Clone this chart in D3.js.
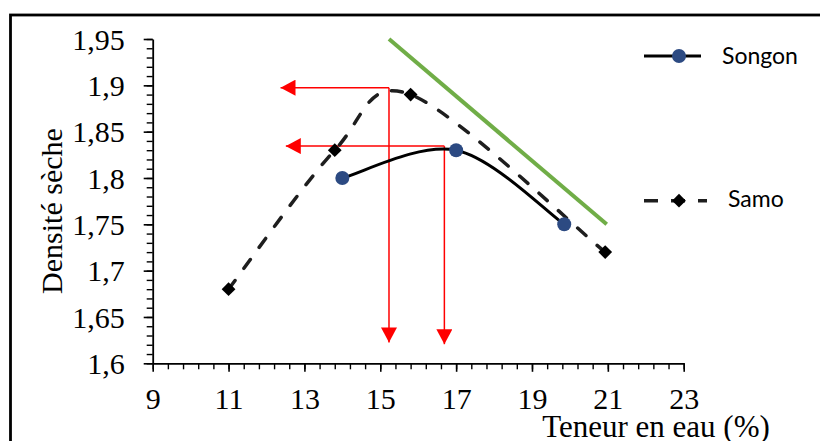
<!DOCTYPE html>
<html>
<head>
<meta charset="utf-8">
<script src="https://cdn.jsdelivr.net/npm/d3@7/dist/d3.min.js"></script>
<style>
  html, body { margin: 0; padding: 0; background: #fff; }
  svg { display: block; }
</style>
</head>
<body>
<svg id="chart" width="820" height="441"></svg>
<script>
// Compaction test: dry density against water content for two soils
const songonWater = [14, 17, 19.85];
const songonDensity = [1.80, 1.83, 1.75];
const samoWater = [11, 13.8, 15.8, 20.93];
const samoDensity = [1.68, 1.83, 1.89, 1.72];

// Saturation line (straight reference line)
const satWater = [15.23, 20.97];
const satDensity = [1.95, 1.75];

// Optimum read-off guides: corner of each guide, horizontal arrow tip, vertical arrow tip
const guideWater = [15.23, 16.69];
const guideDensity = [1.8975, 1.8344];
const guideTipWater = [12.37, 12.51];
const guideTipDensity = [1.6225, 1.6206];

const xTicks = [9, 11, 13, 15, 17, 19, 21, 23];
const xTickLabels = ["9", "11", "13", "15", "17", "19", "21", "23"];
const yTicks = [1.6, 1.65, 1.7, 1.75, 1.8, 1.85, 1.9, 1.95];
const yTickLabels = ["1,6", "1,65", "1,7", "1,75", "1,8", "1,85", "1,9", "1,95"];

const seriesNames = ["Songon", "Samo"];
const xTitle = "Teneur en eau (%)";
const yTitle = "Densité sèche";

const serif = "'Liberation Serif', 'Times New Roman', serif";
const sans = "Lato, 'Open Sans', sans-serif";
const blue = "#2c4a82";
const green = "#70ad47";
const red = "#ff0000";

// Spreadsheet-style smoothed line: Bezier segments with Catmull-Rom tangents (1/6),
// each control arm limited to half of its segment length.
function SmoothCurve(context) { this._context = context; }
SmoothCurve.prototype = {
  areaStart() { this._line = 0; },
  areaEnd() { this._line = NaN; },
  lineStart() { this._pts = []; },
  point(px, py) { this._pts.push([+px, +py]); },
  lineEnd() {
    const p = this._pts, n = p.length, c = this._context;
    if (!n) return;
    const dist = (a, b) => Math.hypot(a[0] - b[0], a[1] - b[1]);
    c.moveTo(p[0][0], p[0][1]);
    for (let i = 0; i < n - 1; i++) {
      const p0 = p[Math.max(i - 1, 0)], p1 = p[i], p2 = p[i + 1], p3 = p[Math.min(i + 2, n - 1)];
      const d12 = dist(p1, p2), d02 = dist(p0, p2), d13 = dist(p1, p3);
      let f0 = 1 / 6, f1 = 1 / 6;
      if (d02 * f0 > d12 / 2) f0 = d12 / 2 / d02;
      if (d13 * f1 > d12 / 2) f1 = d12 / 2 / d13;
      c.bezierCurveTo(
        p1[0] + f0 * (p2[0] - p0[0]), p1[1] + f0 * (p2[1] - p0[1]),
        p2[0] - f1 * (p3[0] - p1[0]), p2[1] - f1 * (p3[1] - p1[1]),
        p2[0], p2[1]);
    }
  }
};
const smoothCurve = ctx => new SmoothCurve(ctx);

const svg = d3.select("#chart");

// outer frame
svg.append("rect")
  .attr("x", 10.5).attr("y", 15)
  .attr("width", 830).attr("height", 450)
  .attr("fill", "none").attr("stroke", "#000").attr("stroke-width", 2.8);

const x = d3.scaleLinear().domain([9, 23]).range([152.7, 683.7]);
const y = d3.scaleLinear().domain([1.6, 1.95]).range([363.3, 39]);

// minor ticks
const xMinor = d3.range(0, 36).map(i => 9 + i * 0.4).filter(v => v <= 23.001);
const yMinor = d3.range(0, 36).map(i => 1.6 + i * 0.01);

svg.append("g")
  .attr("transform", `translate(0,${y(1.6)})`)
  .call(d3.axisBottom(x).tickValues(xMinor).tickSize(6).tickFormat("").tickSizeOuter(0))
  .call(g => g.select(".domain").remove())
  .call(g => g.selectAll("line").attr("stroke-width", 1.4));

svg.append("g")
  .attr("transform", `translate(${x(9)},0)`)
  .call(d3.axisLeft(y).tickValues(yMinor).tickSize(6).tickFormat("").tickSizeOuter(0))
  .call(g => g.select(".domain").remove())
  .call(g => g.selectAll("line").attr("stroke-width", 1.4));

// major axes
const xAxis = svg.append("g")
  .attr("transform", `translate(0,${y(1.6)})`)
  .call(d3.axisBottom(x).tickValues(xTicks).tickSize(8.5).tickSizeOuter(0)
    .tickFormat((d, i) => xTickLabels[i]));
xAxis.select(".domain").attr("stroke-width", 1.8);
xAxis.selectAll("line").attr("stroke-width", 1.6);
xAxis.selectAll("text")
  .attr("y", 45.5).attr("dy", 0)
  .attr("font-family", serif).attr("font-size", 30).attr("fill", "#000");

const yAxis = svg.append("g")
  .attr("transform", `translate(${x(9)},0)`)
  .call(d3.axisLeft(y).tickValues(yTicks).tickSize(9).tickPadding(19).tickSizeOuter(0)
    .tickFormat((d, i) => yTickLabels[i]));
yAxis.select(".domain").attr("stroke-width", 1.8);
yAxis.selectAll("line").attr("stroke-width", 1.6);
yAxis.selectAll("text")
  .attr("dy", 0).attr("y", 10.3)
  .attr("font-family", serif).attr("font-size", 30).attr("fill", "#000");

// axis titles
svg.append("text")
  .attr("transform", "translate(62,211) rotate(-90)")
  .attr("text-anchor", "middle")
  .attr("font-family", serif).attr("font-size", 30)
  .text(yTitle);

svg.append("text")
  .attr("x", 656).attr("y", 437)
  .attr("text-anchor", "middle")
  .attr("font-family", serif).attr("font-size", 31)
  .text(xTitle);

// saturation line
const straight = d3.line().x(d => x(d[0])).y(d => y(d[1]));
svg.append("path")
  .datum(satWater.map((w, i) => [w, satDensity[i]]))
  .attr("d", straight)
  .attr("fill", "none").attr("stroke", green).attr("stroke-width", 4);

// red read-off guides
const defs = svg.append("defs");
defs.append("marker")
  .attr("id", "arrow")
  .attr("viewBox", "0 0 15 16")
  .attr("refX", 15).attr("refY", 8)
  .attr("markerWidth", 15).attr("markerHeight", 16)
  .attr("markerUnits", "userSpaceOnUse")
  .attr("orient", "auto")
  .append("path").attr("d", "M0,0 L15,8 L0,16 Z").attr("fill", red);

guideWater.forEach((w, i) => {
  const cx = x(w), cy = y(guideDensity[i]);
  svg.append("line")
    .attr("x1", cx).attr("y1", cy)
    .attr("x2", x(guideTipWater[i])).attr("y2", cy)
    .attr("stroke", red).attr("stroke-width", 1.5)
    .attr("marker-end", "url(#arrow)");
  svg.append("line")
    .attr("x1", cx).attr("y1", cy)
    .attr("x2", cx).attr("y2", y(guideTipDensity[i]))
    .attr("stroke", red).attr("stroke-width", 1.5)
    .attr("marker-end", "url(#arrow)");
});

// smoothed series lines
const smooth = d3.line().x(d => x(d[0])).y(d => y(d[1])).curve(smoothCurve);
const songon = songonWater.map((w, i) => [w, songonDensity[i]]);
const samo = samoWater.map((w, i) => [w, samoDensity[i]]);

svg.append("path")
  .datum(samo).attr("d", smooth)
  .attr("fill", "none").attr("stroke", "#1e1e1e").attr("stroke-width", 3.5)
  .attr("stroke-dasharray", "11,15").attr("stroke-linecap", "round");

svg.append("path")
  .datum(songon).attr("d", smooth)
  .attr("fill", "none").attr("stroke", "#000").attr("stroke-width", 3);

const diamond = d3.symbol(d3.symbolSquare, 95);
svg.append("g").selectAll("path")
  .data(samo).join("path")
  .attr("d", diamond)
  .attr("transform", d => `translate(${x(d[0])},${y(d[1])}) rotate(45)`)
  .attr("fill", "#000");

svg.append("g").selectAll("circle")
  .data(songon).join("circle")
  .attr("cx", d => x(d[0])).attr("cy", d => y(d[1]))
  .attr("r", 7).attr("fill", blue);

// legend
const legend = svg.append("g");
legend.append("line")
  .attr("x1", 644).attr("x2", 701).attr("y1", 56).attr("y2", 56)
  .attr("stroke", "#000").attr("stroke-width", 3);
legend.append("circle").attr("cx", 679).attr("cy", 56).attr("r", 7).attr("fill", blue);
legend.append("text")
  .attr("x", 722).attr("y", 63.5)
  .attr("font-family", sans).attr("font-size", 23)
  .text(seriesNames[0]);

legend.append("line")
  .attr("x1", 644).attr("x2", 707).attr("y1", 200.7).attr("y2", 200.7)
  .attr("stroke", "#1e1e1e").attr("stroke-width", 3.5)
  .attr("stroke-dasharray", "14,13");
legend.append("path")
  .attr("d", diamond)
  .attr("transform", "translate(679,200.7) rotate(45)")
  .attr("fill", "#000");
legend.append("text")
  .attr("x", 728).attr("y", 207)
  .attr("font-family", sans).attr("font-size", 23)
  .text(seriesNames[1]);
</script>
</body>
</html>
